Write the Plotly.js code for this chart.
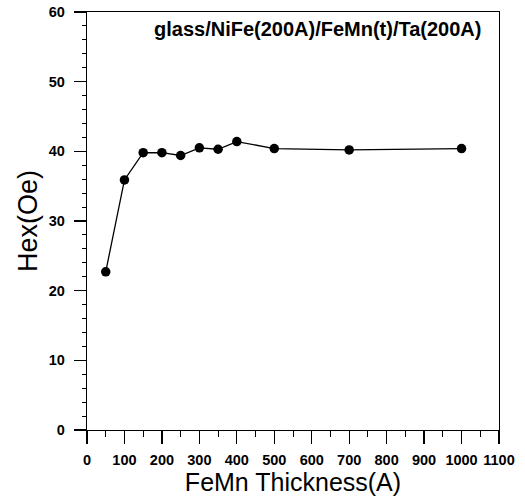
<!DOCTYPE html>
<html>
<head>
<meta charset="utf-8">
<script src="https://cdn.plot.ly/plotly-3.0.1.min.js"></script>
<style>html,body{margin:0;padding:0;background:#fff;}#chart{width:525px;height:497px;}</style>
</head>
<body>
<div id="chart"></div>
<script>
const thickness = [50, 100, 150, 200, 250, 300, 350, 400, 500, 700, 1000];
const hex = [22.7, 35.9, 39.8, 39.8, 39.4, 40.5, 40.3, 41.4, 40.4, 40.2, 40.4];
const sampleLabel = "glass/NiFe(200A)/FeMn(t)/Ta(200A)";
const xTitle = "FeMn Thickness(A)";
const yTitle = "Hex(Oe)";

const tickFont = {family: "Liberation Sans, Arial, sans-serif", size: 14.5, color: "#000", weight: "bold"};

Plotly.newPlot("chart", [{
  x: thickness, y: hex, type: "scatter", mode: "lines+markers",
  line: {color: "#000", width: 1.3},
  marker: {color: "#000", size: 9.5},
  showlegend: false
}], {
  width: 525, height: 497,
  margin: {l: 87, r: 26, t: 12, b: 67},
  paper_bgcolor: "#fff", plot_bgcolor: "#fff",
  xaxis: {
    range: [0, 1100], tickmode: "linear", tick0: 0, dtick: 100,
    ticks: "outside", ticklen: 13, tickwidth: 1.3, tickcolor: "#000",
    minor: {dtick: 50, ticks: "outside", ticklen: 6, tickwidth: 1, tickcolor: "#000"},
    showgrid: false, zeroline: false, showline: true, linecolor: "#000", linewidth: 1.3, mirror: true,
    tickfont: tickFont, ticklabelstandoff: 3,
    title: {text: xTitle, font: {family: "Liberation Sans, Arial, sans-serif", size: 25, color: "#000"}, standoff: 2}
  },
  yaxis: {
    range: [0, 60], tickmode: "linear", tick0: 0, dtick: 10,
    ticks: "outside", ticklen: 12, tickwidth: 1.3, tickcolor: "#000",
    minor: {dtick: 2, ticks: "outside", ticklen: 4, tickwidth: 1, tickcolor: "#000"},
    showgrid: false, zeroline: false, showline: true, linecolor: "#000", linewidth: 1.3, mirror: true,
    tickfont: tickFont, ticklabelstandoff: 6,
    title: {text: yTitle, font: {family: "Liberation Sans, Arial, sans-serif", size: 27, color: "#000"}, standoff: 3}
  },
  annotations: [{
    text: sampleLabel, xref: "paper", yref: "paper", x: 0.962, y: 0.99,
    xanchor: "right", yanchor: "top", showarrow: false,
    font: {family: "Liberation Sans, Arial, sans-serif", size: 20, color: "#000", weight: "bold"}
  }]
}, {displayModeBar: false, staticPlot: true});
</script>
</body>
</html>
